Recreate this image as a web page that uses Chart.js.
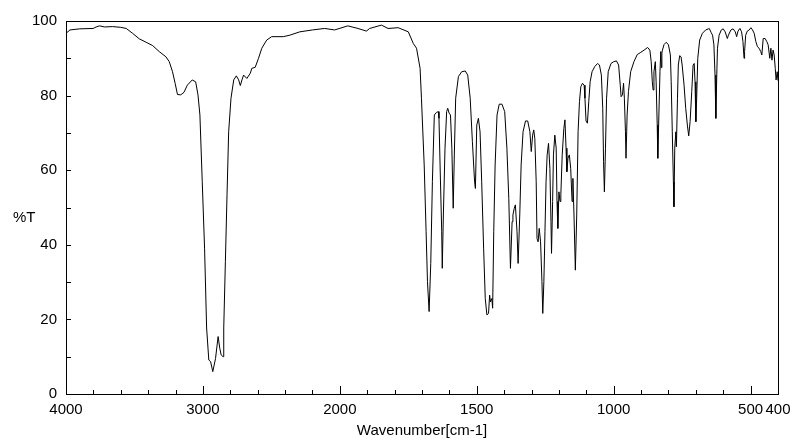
<!DOCTYPE html>
<html>
<head>
<meta charset="utf-8">
<script src="https://cdn.jsdelivr.net/npm/chart.js@4.4.0/dist/chart.umd.min.js"></script>
<style>
  html, body { margin: 0; padding: 0; background: #fff; }
  #wrap { width: 800px; height: 441px; }
</style>
</head>
<body>
<div id="wrap"><canvas id="irChart"></canvas></div>
<script>
// Spectre IR : nombre d'onde (cm-1) et transmittance (%T)
const wavenumbers = [
  4000, 3971, 3899, 3802, 3780, 3754, 3720, 3659, 3600, 3560, 3514, 3464, 3415, 3367, 3319, 3270,
  3246, 3222, 3203, 3186, 3162, 3138, 3114, 3078, 3053, 3036, 3022, 3005, 2988, 2973, 2957, 2944,
  2928, 2908, 2889, 2877, 2867, 2853, 2848, 2836, 2824, 2812, 2795, 2775, 2756, 2739, 2727, 2715,
  2703, 2679, 2654, 2643, 2618, 2594, 2570, 2534, 2498, 2413, 2365, 2292, 2200, 2111, 2038, 1971,
  1934, 1903, 1891, 1848, 1824, 1787, 1750, 1732, 1720, 1707, 1702, 1692, 1685, 1680, 1674, 1668,
  1662, 1655, 1647, 1640, 1638, 1634, 1628, 1626, 1622, 1616, 1610, 1606, 1601, 1596, 1591, 1586,
  1582, 1577, 1567, 1555, 1542, 1533, 1524, 1516, 1508, 1505, 1500, 1494, 1488, 1482, 1475, 1469,
  1463, 1457, 1453, 1450, 1445, 1442, 1438, 1433, 1426, 1418, 1408, 1398, 1390, 1383, 1377, 1371,
  1368, 1363, 1359, 1353, 1349, 1343, 1338, 1331, 1322, 1314, 1306, 1301, 1296, 1292, 1288, 1283,
  1280, 1276, 1272, 1267, 1262, 1259, 1255, 1251, 1247, 1243, 1238, 1233, 1229, 1227, 1223, 1220,
  1215, 1210, 1207, 1204, 1200, 1196, 1193, 1188, 1182, 1178, 1174, 1171, 1167, 1162, 1157, 1152,
  1149, 1145, 1140, 1135, 1130, 1125, 1120, 1114, 1108, 1105, 1101, 1096, 1091, 1086, 1079, 1069,
  1059, 1052, 1045, 1040, 1037, 1034, 1030, 1026, 1020, 1010, 1000, 990, 982, 976, 973, 968,
  964, 961, 957, 955, 951, 946, 938, 926, 914, 901, 889, 876, 868, 863, 859, 856,
  853, 848, 845, 841, 839, 835, 831, 828, 826, 824, 822, 816, 808, 800, 793, 790,
  786, 782, 780, 777, 773, 771, 767, 764, 759, 754, 750, 743, 737, 731, 726, 721,
  715, 710, 706, 703, 700, 697, 693, 686, 676, 664, 654, 651, 644, 639, 634, 630,
  627, 623, 621, 615, 607, 600, 593, 585, 581, 572, 564, 556, 551, 546, 539, 533,
  528, 524, 522, 518, 512, 505, 499, 493, 487, 481, 475, 469, 463, 459, 454, 447,
  441, 436, 430, 426, 422, 418, 414, 410, 407, 403, 400
];
const transmittance = [
  96.7, 97.6, 97.9, 98.0, 98.4, 98.7, 98.4, 98.5, 98.3, 98.0, 96.7, 95.2, 94.3, 93.4, 91.8, 90.4,
  89.1, 86.4, 83.3, 80.3, 80.2, 80.9, 82.8, 84.2, 83.7, 80.2, 74.8, 56.9, 39.1, 17.7, 9.1, 8.7,
  6.0, 9.5, 15.4, 12.3, 10.5, 10.0, 17.7, 35.5, 53.4, 70.3, 79.3, 84.2, 85.3, 84.2, 82.7, 84.2,
  85.5, 84.6, 86.0, 87.3, 87.6, 90.0, 92.7, 94.9, 95.8, 95.8, 96.2, 97.1, 97.6, 98.0, 97.6, 98.7,
  98.0, 97.3, 98.0, 98.9, 98.0, 98.2, 97.1, 94.0, 92.7, 87.3, 79.3, 61.4, 43.5, 30.1, 22.1, 35.0,
  57.0, 74.8, 75.5, 75.7, 73.9, 61.4, 43.5, 33.7, 48.0, 65.9, 75.7, 76.6, 75.3, 74.8, 65.9, 49.8,
  64.1, 79.3, 85.1, 86.4, 86.6, 85.5, 79.3, 67.7, 56.9, 55.1, 72.1, 73.9, 70.3, 56.9, 39.1, 25.6,
  21.2, 21.6, 26.5, 24.7, 25.6, 23.0, 43.5, 61.4, 74.8, 77.7, 77.7, 75.7, 65.9, 52.4, 33.7, 46.2,
  48.0, 49.8, 50.7, 43.5, 35.0, 48.0, 61.4, 70.3, 73.2, 73.2, 70.3, 65.0, 69.4, 70.8, 68.5, 56.9,
  41.7, 40.8, 44.4, 40.8, 30.1, 21.6, 30.1, 43.5, 56.9, 64.1, 67.2, 60.5, 46.2, 37.7, 51.6, 64.1,
  69.4, 65.9, 51.6, 44.4, 54.2, 51.6, 53.4, 64.1, 71.2, 73.5, 65.9, 59.6, 63.2, 64.1, 60.5, 51.6,
  57.8, 48.0, 33.2, 48.0, 70.3, 78.4, 82.4, 83.3, 82.8, 79.3, 73.2, 72.6, 78.4, 83.7, 86.4, 87.8,
  88.6, 88.2, 85.5, 76.6, 62.3, 54.2, 65.9, 79.3, 86.4, 88.6, 89.1, 89.3, 88.2, 82.8, 79.7, 80.2,
  83.3, 79.3, 70.3, 63.2, 74.8, 81.1, 86.4, 89.1, 91.0, 91.6, 92.2, 92.9, 92.2, 89.1, 83.7, 81.5,
  86.4, 89.1, 83.7, 72.1, 63.2, 74.8, 86.4, 91.8, 87.5, 91.4, 92.2, 93.7, 94.3, 93.6, 90.9, 83.7,
  70.3, 56.9, 50.2, 65.9, 70.3, 66.3, 79.3, 88.2, 90.7, 90.4, 88.2, 82.8, 76.6, 72.1, 69.2, 73.0,
  81.1, 88.2, 88.6, 83.7, 73.0, 79.3, 90.0, 94.9, 96.7, 97.6, 97.9, 98.0, 96.9, 96.2, 93.6, 85.5,
  73.9, 87.3, 92.7, 96.2, 97.6, 97.9, 97.1, 95.3, 96.2, 97.6, 97.9, 97.1, 95.8, 97.3, 98.0, 97.1,
  94.5, 90.0, 91.8, 96.2, 97.3, 97.6, 98.2, 97.6, 96.7, 94.5, 93.1, 92.7, 91.8, 90.9, 95.3, 95.3,
  94.5, 93.6, 90.0, 92.7, 89.5, 92.2, 90.9, 87.3, 84.2, 86.4, 84.0
];

// Graduations de l'axe X (cm-1) : tous les 200 au-dessus de 2000, tous les 100 en dessous
const tickWavenumbers = [4000, 3800, 3600, 3400, 3200, 3000, 2800, 2600, 2400, 2200, 2000,
  1900, 1800, 1700, 1600, 1500, 1400, 1300, 1200, 1100, 1000, 900, 800, 700, 600, 500, 400];
const labelledWavenumbers = [4000, 3000, 2000, 1500, 1000, 500, 400];
const yTicks = [0, 20, 40, 60, 80, 100];

// échelle dilatée x2 en dessous de 2000 cm-1
function toAxis(w) {
  return w >= 2000 ? 4000 - w : 2000 + 2 * (2000 - w);
}

const FONT = '"Liberation Sans", Arial, sans-serif';
const FONT_SIZE = 15;

// Cadre, petites graduations intérieures et titre %T
const framePlugin = {
  id: 'frame',
  afterDraw(chart) {
    const { ctx, chartArea: a, scales } = chart;
    ctx.save();
    ctx.strokeStyle = '#000';
    ctx.lineWidth = 1;
    ctx.strokeRect(Math.round(a.left) + 0.5, Math.round(a.top) + 0.5,
      Math.round(a.right - a.left), Math.round(a.bottom - a.top));
    ctx.beginPath();
    tickWavenumbers.forEach(w => {
      const px = Math.round(scales.x.getPixelForValue(toAxis(w))) + 0.5;
      const len = labelledWavenumbers.includes(w) ? 8 : 4;
      ctx.moveTo(px, a.bottom);
      ctx.lineTo(px, a.bottom - len);
    });
    for (let v = 10; v < 100; v += 10) {
      const py = Math.round(scales.y.getPixelForValue(v)) + 0.5;
      ctx.moveTo(a.left, py);
      ctx.lineTo(a.left + 5, py);
    }
    ctx.stroke();
    ctx.fillStyle = '#000';
    ctx.font = FONT_SIZE + 'px ' + FONT;
    ctx.textAlign = 'left';
    ctx.textBaseline = 'middle';
    ctx.fillText('%T', 13, 218);
    ctx.restore();
  }
};

const ctx1 = document.getElementById('irChart').getContext('2d');
const irChart = new Chart(ctx1, {
  type: 'line',
  data: {
    datasets: [{
      data: wavenumbers.map((w, i) => ({ x: toAxis(w), y: transmittance[i] })),
      borderColor: '#000',
      borderWidth: 1,
      pointRadius: 0,
      tension: 0,
      fill: false
    }]
  },
  options: {
    responsive: true,
    maintainAspectRatio: false,
    animation: false,
    layout: { padding: { top: 21, right: 22, left: 0, bottom: 0 } },
    plugins: { legend: { display: false }, tooltip: { enabled: false } },
    scales: {
      x: {
        type: 'linear',
        min: 0,
        max: 5200,
        afterFit: s => { s.height = 47; },
        afterBuildTicks: s => { s.ticks = labelledWavenumbers.map(w => ({ value: toAxis(w) })); },
        grid: { display: false, drawTicks: false },
        border: { display: false },
        ticks: {
          autoSkip: false,
          maxRotation: 0,
          padding: 7,
          color: '#000',
          font: { family: FONT, size: FONT_SIZE },
          callback: v => {
            const w = labelledWavenumbers.find(l => toAxis(l) === v);
            return w === undefined ? '' : String(w);
          }
        },
        title: {
          display: true,
          text: 'Wavenumber[cm-1]',
          color: '#000',
          font: { family: FONT, size: FONT_SIZE },
          padding: { top: 0, bottom: 1 }
        }
      },
      y: {
        min: 0,
        max: 100,
        afterFit: s => { s.width = 66; },
        afterBuildTicks: s => { s.ticks = yTicks.map(v => ({ value: v })); },
        grid: { display: false, drawTicks: false },
        border: { display: false },
        ticks: {
          padding: 9,
          color: '#000',
          font: { family: FONT, size: FONT_SIZE }
        }
      }
    }
  },
  plugins: [framePlugin]
});
</script>
</body>
</html>
